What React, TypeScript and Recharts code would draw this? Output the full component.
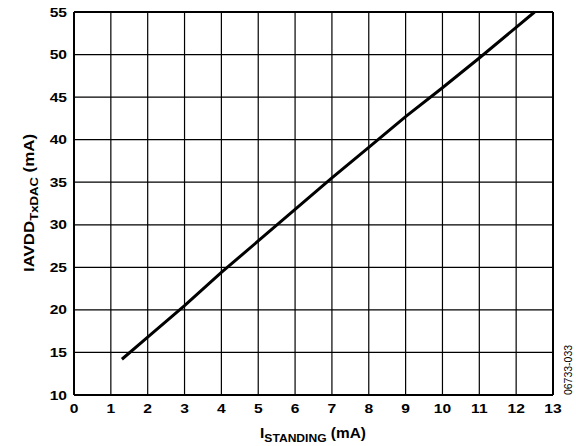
import { LineChart, Line, XAxis, YAxis, CartesianGrid, ReferenceLine } from 'recharts';

const istanding = [1.3, 2, 3, 4, 5, 6, 7, 8, 9, 10, 11, 12, 12.5];
const iavdd = [14.2, 16.8, 20.5, 24.4, 28.1, 31.8, 35.5, 39.1, 42.7, 46.1, 49.6, 53.2, 55];
const xTicks = [0, 1, 2, 3, 4, 5, 6, 7, 8, 9, 10, 11, 12, 13];
const yTicks = [10, 15, 20, 25, 30, 35, 40, 45, 50, 55];

const data = istanding.map((x, i) => ({ x, y: iavdd[i] }));

const font = '"Liberation Sans", Arial, sans-serif';

// the reference text is a bit wider than plain Arial, so stretch it slightly
function XTick({ x, y, payload }: any) {
  return (
    <text
      transform={`translate(${x},${y + 12}) scale(1.2,1)`}
      textAnchor="middle"
      fontFamily={font}
      fontWeight="bold"
      fontSize={13}
      fill="#000"
    >
      {payload.value}
    </text>
  );
}

function YTick({ x, y, payload }: any) {
  return (
    <text
      transform={`translate(${x},${y + 4.5}) scale(1.2,1)`}
      textAnchor="end"
      fontFamily={font}
      fontWeight="bold"
      fontSize={13}
      fill="#000"
    >
      {payload.value}
    </text>
  );
}

function YLabel() {
  return (
    <text
      x={0}
      y={0}
      transform="translate(34,203) rotate(-90) scale(1.25,1.05)"
      textAnchor="middle"
      fontFamily={font}
      fontWeight="bold"
      fontSize={13.5}
      fill="#000"
    >
      IAVDD
      <tspan fontSize={10.5} dy={4}>TxDAC</tspan>
      <tspan dy={-4}> (mA)</tspan>
    </text>
  );
}

function XLabel() {
  return (
    <text
      x={0}
      y={0}
      transform="translate(313,438) scale(1.1,1)"
      textAnchor="middle"
      fontFamily={font}
      fontWeight="bold"
      fontSize={14}
      fill="#000"
    >
      I
      <tspan fontSize={11} dy={4}>STANDING</tspan>
      <tspan dy={-4}> (mA)</tspan>
    </text>
  );
}

export default function App() {
  return (
    <div style={{ position: 'absolute', left: 0, top: 0, background: '#fff' }}>
      <LineChart width={576} height={446} data={data} margin={{ top: 12, right: 23, bottom: 21, left: 34 }}>
        <CartesianGrid stroke="#000" strokeWidth={1.2} horizontalValues={yTicks} verticalValues={xTicks} />
        <XAxis
          type="number"
          dataKey="x"
          domain={[0, 13]}
          ticks={xTicks}
          interval={0}
          height={30}
          tickLine={false}
          axisLine={{ stroke: '#000', strokeWidth: 2 }}
          tick={<XTick />}
          tickMargin={0}
          label={{ content: () => <XLabel /> }}
        />
        <YAxis
          type="number"
          domain={[10, 55]}
          ticks={yTicks}
          interval={0}
          width={40}
          tickLine={false}
          axisLine={{ stroke: '#000', strokeWidth: 2 }}
          tick={<YTick />}
          tickMargin={1}
          label={{ content: () => <YLabel /> }}
        />
        <ReferenceLine y={55} stroke="#000" strokeWidth={2} />
        <ReferenceLine x={13} stroke="#000" strokeWidth={2} />
        <Line
          type="linear"
          dataKey="y"
          stroke="#000"
          strokeWidth={3}
          dot={false}
          isAnimationActive={false}
        />
        <text
          x={0}
          y={0}
          transform="translate(572,370) rotate(-90)"
          textAnchor="middle"
          fontFamily={font}
          fontSize={10.5}
          fill="#000"
        >
          06733-033
        </text>
      </LineChart>
    </div>
  );
}
